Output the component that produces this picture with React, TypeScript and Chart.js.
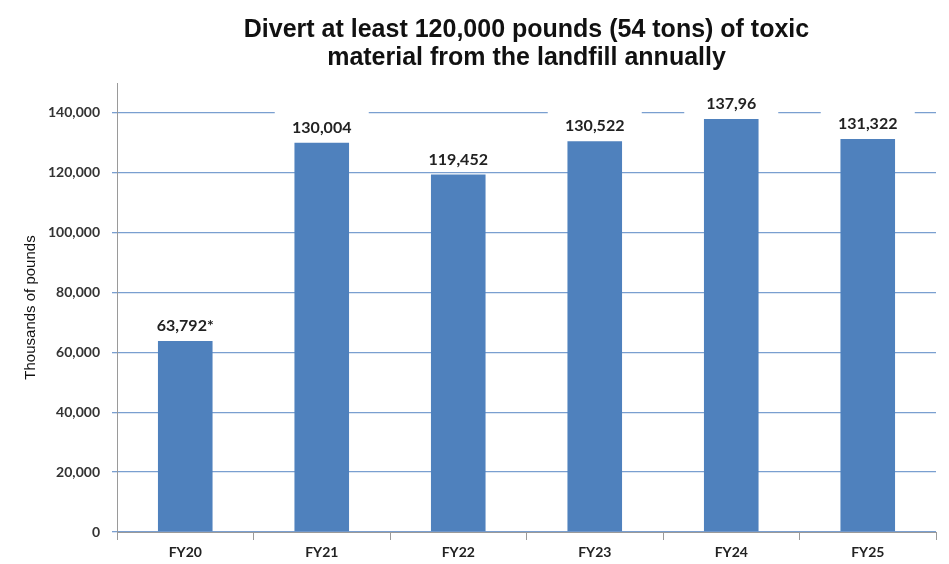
import React, { useEffect, useRef } from "react";
import { Chart, registerables } from "chart.js";

Chart.register(...registerables);

const categories = ["FY20", "FY21", "FY22", "FY23", "FY24", "FY25"];
const values = [63792, 130004, 119452, 130522, 137960, 131322];
const valueLabels = ["63,792*", "130,004", "119,452", "130,522", "137,96", "131,322"];
const titleLines = [
  "Divert at least 120,000 pounds (54 tons) of toxic",
  "material from the landfill annually",
];
const yAxisTitle = "Thousands of pounds";
const yMax = 150000;
const yTickValues = [0, 20000, 40000, 60000, 80000, 100000, 120000, 140000];

const labelPlugin = {
  id: "valueLabels",
  afterDatasetsDraw(chart: any) {
    const ctx = chart.ctx;
    const meta = chart.getDatasetMeta(0);
    ctx.save();
    meta.data.forEach((bar: any, i: number) => {
      const x = bar.x;
      const y = bar.y - 15;
      ctx.fillStyle = "#ffffff";
      ctx.fillRect(x - 47, y - 18, 94, 30);
      ctx.fillStyle = "#222222";
      ctx.font = "bold 16px Lato";
      ctx.textAlign = "center";
      ctx.textBaseline = "middle";
      ctx.fillText(valueLabels[i], x, y);
    });
    ctx.restore();
  },
};

export default function App() {
  const ref = useRef<HTMLCanvasElement>(null);
  useEffect(() => {
    if (!ref.current) return;
    const chart = new Chart(ref.current, {
      type: "bar",
      data: {
        labels: categories,
        datasets: [
          {
            data: values,
            backgroundColor: "#4F81BD",
            borderWidth: 0,
            categoryPercentage: 1,
            barPercentage: 0.4,
          },
        ],
      },
      options: {
        animation: false,
        responsive: false,
        layout: { padding: { left: 0, right: 13, top: 0, bottom: 0 } },
        plugins: {
          legend: { display: false },
          tooltip: { enabled: false },
          title: {
            display: true,
            text: titleLines,
            fullSize: false,
            color: "#111111",
            font: { family: "Liberation Sans", size: 25, weight: "bold", lineHeight: 1.12 },
            padding: { top: 16, bottom: 11 },
          },
        },
        scales: {
          x: {
            grid: {
              drawOnChartArea: false,
              drawTicks: true,
              tickLength: 8,
              offset: true,
              color: "#9a9a9a",
            },
            border: { color: "#9a9a9a", width: 1 },
            ticks: {
              color: "#222222",
              font: { family: "Lato", size: 14, weight: "bold" },
              padding: 4,
            },
            afterFit(scale: any) {
              scale.height = 32;
            },
          },
          y: {
            min: 0,
            max: yMax,
            ticks: {
              color: "#333333",
              font: { family: "Lato", size: 14, weight: "bold" },
              padding: 12,
              callback: (v: any) => Number(v).toLocaleString("en-US"),
            },
            afterBuildTicks(scale: any) {
              scale.ticks = yTickValues.map((v) => ({ value: v }));
            },
            grid: {
              color: "#7A9FD0",
              lineWidth: 1.3,
              tickLength: 5,
            },
            border: { color: "#9a9a9a", width: 1 },
            title: {
              display: true,
              text: yAxisTitle,
              color: "#111111",
              font: { family: "Liberation Sans", size: 15 },
              padding: { top: 22, bottom: 0 },
            },
            afterFit(scale: any) {
              scale.width = 117;
            },
          },
        },
      },
      plugins: [labelPlugin],
    });
    return () => chart.destroy();
  }, []);
  return (
    <div style={{ position: "absolute", left: 0, top: 0, width: 949, height: 564, background: "#fff" }}>
      <canvas ref={ref} width={949} height={564} />
    </div>
  );
}
